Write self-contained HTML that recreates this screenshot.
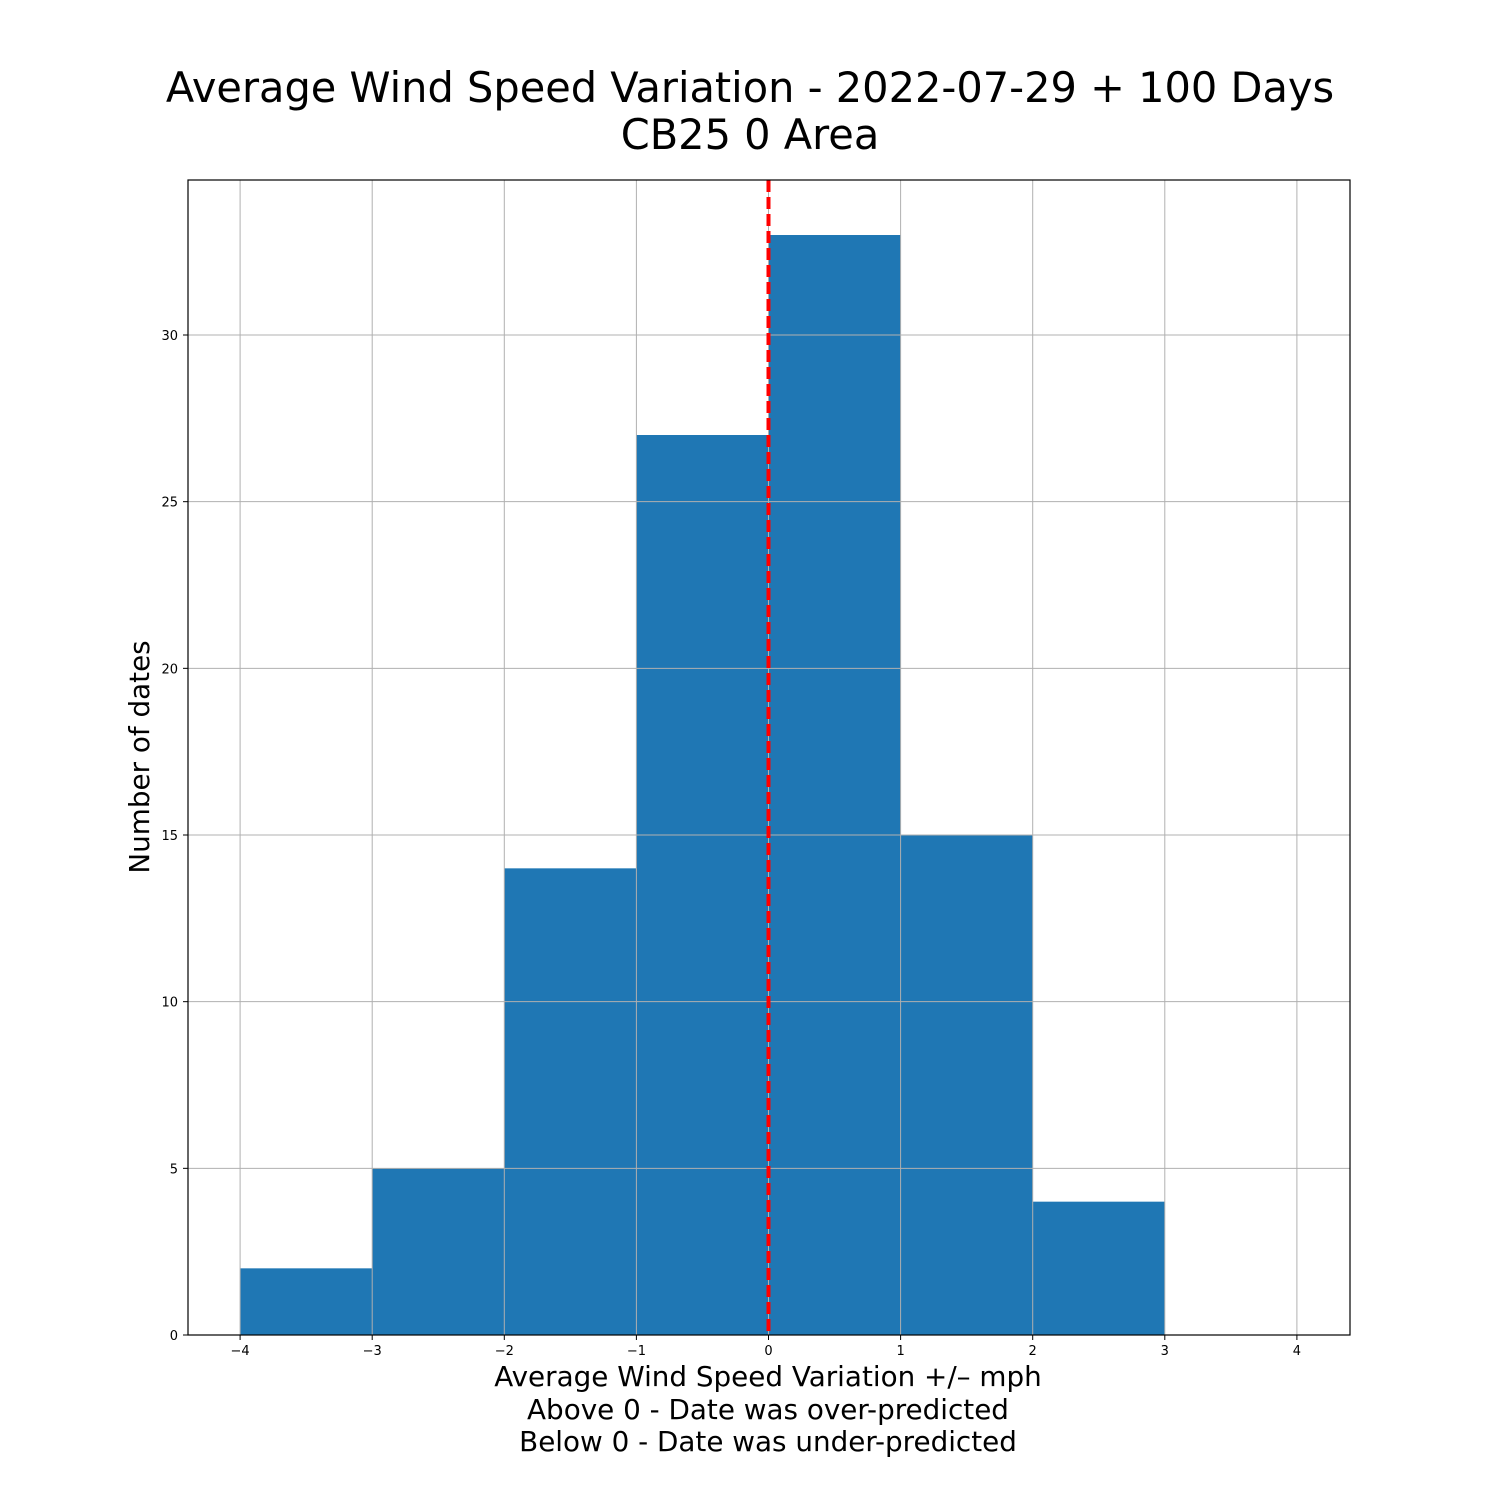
<!DOCTYPE html>
<html><head><meta charset="utf-8"><style>
body{margin:0;background:#fff;}
svg text{font-family:"DejaVu Sans","Liberation Sans",sans-serif;}
</style></head><body>
<svg width="1500" height="1500" xmlns="http://www.w3.org/2000/svg">
<rect width="1500" height="1500" fill="#fff"/>
<text x="750" y="102" font-size="41.5" text-anchor="middle">Average Wind Speed Variation - 2022-07-29 + 100 Days</text>
<text x="750" y="149" font-size="41.5" text-anchor="middle">CB25 0 Area</text>
<g id="bars"></g>
<g id="grid"></g>
<g id="ticks"></g>
<line id="zeroline" stroke="#ff0000" stroke-width="4" stroke-dasharray="12,5"/>
<rect x="188" y="180" width="1162" height="1155" fill="none" stroke="#000" stroke-width="1.2"/>
<text x="768" y="1386" font-size="27.8" text-anchor="middle">Average Wind Speed Variation +/– mph</text>
<text x="768" y="1419" font-size="27.8" text-anchor="middle">Above 0 - Date was over-predicted</text>
<text x="768" y="1451" font-size="27.8" text-anchor="middle">Below 0 - Date was under-predicted</text>
<text transform="translate(149,757) rotate(-90)" font-size="27.8" text-anchor="middle">Number of dates</text>
</svg>
<script>
const binEdges=[-4,-3,-2,-1,0,1,2,3];
const counts=[2,5,14,27,33,15,4];
const xTicks=[-4,-3,-2,-1,0,1,2,3,4];
const yTicks=[0,5,10,15,20,25,30];
const refValue=0;
const NS="http://www.w3.org/2000/svg";
const X=v=>768.5+v*132.1;
const Y=v=>1335-v*33.333;
function mk(t,a,p){const e=document.createElementNS(NS,t);for(const k in a)e.setAttribute(k,a[k]);p.appendChild(e);return e;}
const bars=document.getElementById('bars'),grid=document.getElementById('grid'),ticks=document.getElementById('ticks');
counts.forEach((c,i)=>{
 const r=mk('rect',{x:X(binEdges[i]),y:Y(c),width:X(binEdges[i]+1)-X(binEdges[i]),height:Y(0)-Y(c),fill:'#1f77b4'},bars);
 
 
});
xTicks.forEach(v=>{
 const g=mk('line',{x1:X(v),x2:X(v),y1:180,y2:1335,stroke:'#b0b0b0','stroke-width':1},grid);
 
 
 mk('line',{x1:X(v),x2:X(v),y1:1335,y2:1340,stroke:'#000'},ticks);
 const t=mk('text',{x:X(v),y:1355,'font-size':13,'text-anchor':'middle'},ticks);
 t.textContent=v<0?'\u2212'+(-v):String(v);
 
 
});
yTicks.forEach(v=>{
 const g=mk('line',{x1:188,x2:1350,y1:Y(v),y2:Y(v),stroke:'#b0b0b0','stroke-width':1},grid);
 
 
 mk('line',{x1:183,x2:188,y1:Y(v),y2:Y(v),stroke:'#000'},ticks);
 const t=mk('text',{x:178,y:Y(v)+5,'font-size':13,'text-anchor':'end'},ticks);
 t.textContent=String(v);
 
 
});
const z=document.getElementById('zeroline');
z.setAttribute('x1',X(refValue));z.setAttribute('x2',X(refValue));z.setAttribute('y1',180);z.setAttribute('y2',1335);
</script>
</body></html>
